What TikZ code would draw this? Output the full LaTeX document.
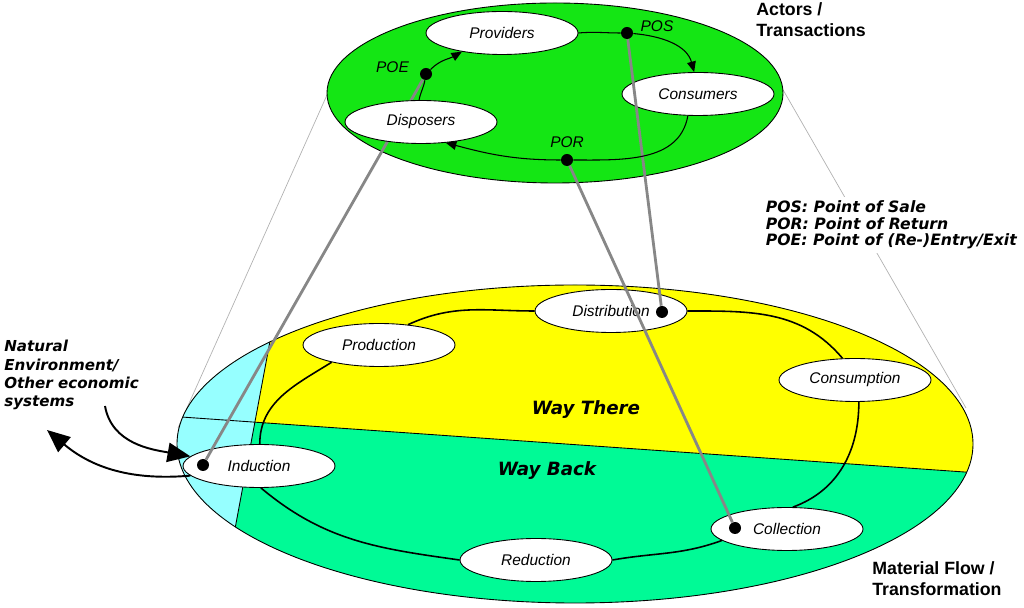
\documentclass[tikz,border=0pt]{standalone}
\usepackage{fontspec}
\setmainfont{Liberation Sans}
\newfontfamily\verdana{DejaVu Sans}
\usetikzlibrary{arrows.meta,shapes.geometric}

\definecolor{topgreen}{RGB}{20,230,20}
\definecolor{waythere}{RGB}{255,255,0}
\definecolor{wayback}{RGB}{0,250,150}
\definecolor{nature}{RGB}{150,255,255}
\definecolor{linkgray}{RGB}{135,135,135}

\begin{document}
\begin{tikzpicture}
    [
        x = 0.02cm, y = 0.02cm,
        stage/.style      = {shape=ellipse, draw, fill=white, line width=0.5pt,
                             minimum width=3.04cm, minimum height=0.86cm, inner sep=0pt,
                             font=\fontsize{8.8}{10}\selectfont\itshape},
        point/.style      = {shape=circle, fill=black, minimum size=0.24cm, inner sep=0pt},
        pointlabel/.style = {font=\fontsize{8.8}{10}\selectfont\itshape, inner sep=0pt},
        link/.style       = {draw=linkgray, line width=1.6pt},
        flow/.style       = {draw, line width=0.9pt},
        deal/.style       = {draw, line width=0.6pt, -{Triangle[length=6pt,width=5pt]}},
        cone/.style       = {draw=gray!60, line width=0.4pt},
        bigarrow/.style   = {draw, line width=1.1pt, -{Triangle[length=13pt,width=11pt]}},
        heading/.style    = {font=\fontsize{10.1}{11.9}\selectfont\bfseries, align=left, inner sep=0pt},
        note/.style       = {font=\verdana\fontsize{8.6}{10.4}\selectfont\bfseries\itshape, align=left, inner sep=0pt},
        wayname/.style    = {font=\verdana\fontsize{10.4}{12}\selectfont\bfseries\itshape},
    ]
    \useasboundingbox (0,0) rectangle (1024,608);

    % outline of the cone
    \draw [cone] (327,513) -- (178,180);
    \draw [cone] (782,520) -- (966,200);

    % material flow level
    \begin{scope}
        \clip (575,164) ellipse [x radius=398, y radius=159];
        \fill [wayback] (150,-20) rectangle (1000,400);
        \fill [waythere] (150,193.2) -- (1000,133.5) -- (1000,400) -- (150,400) -- cycle;
        \fill [nature] (287,358) -- (218,-12) -- (100,-12) -- (100,358) -- cycle;
        \draw [line width=0.5pt] (150,193.2) -- (1000,133.5);
        \draw [line width=0.5pt] (287,358) -- (218,-12);
    \end{scope}
    \draw [line width=0.5pt] (575,164) ellipse [x radius=398, y radius=159];

    % actors level
    \draw [fill=topgreen, line width=0.5pt] (555,515) ellipse [x radius=228, y radius=90];

    \node [stage] (Production)   at (379,263) {Production};
    \node [stage] (Distribution) at (611,297) {Distribution};
    \node [stage] (Consumption)  at (855,228) {Consumption};
    \node [stage] (Collection)   at (787,79)  {Collection};
    \node [stage] (Reduction)    at (536,48)  {Reduction};
    \node [stage] (Induction)    at (259,142) {Induction};
    \node [point] (distDot) at (662,296) {};
    \node [point] (indDot)  at (203,143) {};
    \node [point] (collDot) at (735,80)  {};

    \node [stage] (Providers) at (502,575) {Providers};
    \node [stage] (Consumers) at (698,514) {Consumers};
    \node [point, label={[pointlabel, label distance=4pt]5:POS}]   (POS) at (627,575) {};
    \node [point, label={[pointlabel, label distance=3pt]90:POR}]  (POR) at (567,448) {};
    \node [point, label={[pointlabel, label distance=6pt]175:POE}] (POE) at (426,534) {};

    \draw [link] (POE) -- (indDot);
    \node [stage] (Disposers) at (421,486) {Disposers};
    \draw [link] (POS) -- (distDot);
    \draw [link] (POR) -- (collDot);

    % transactions
    \draw [deal] (Providers.east) to[out=5, in=180] (POS) to[out=-5, in=105] (Consumers.100);
    \draw [deal] (Consumers.-115) to[out=-100, in=0] (POR) to[out=180, in=-15] (Disposers.-40);
    \draw [deal] (Disposers.95) to[out=80, in=-100] (POE) to[out=45, in=210] (Providers.-155);

    % material cycle
    \draw [flow] (Production.35) to[out=25, in=180] (Distribution.west)
                 (Distribution.east) to[out=0, in=130] (Consumption.120)
                 (Consumption.-80) to[out=-90, in=20] (Collection.75)
                 (Collection.190) to[out=200, in=10] (Reduction.east)
                 (Reduction.west) to[out=172, in=-40] (Induction.-85)
                 (Induction.88) to[out=90, in=212] (Production.200);

    \coordinate (natIn)  at (105,202);
    \coordinate (natOut) at (47,178);
    \draw [bigarrow] (natIn) to[out=-80, in=170] (Induction.172);
    \draw [bigarrow] (Induction.188) to[out=185, in=-40] (natOut);

    \node [wayname] (there) at (586,198) {Way There};
    \node [wayname] (back)  at (547,137) {Way Back};

    \node [heading, anchor=north west] (actors)   at (756,606) {Actors /\\Transactions};
    \node [heading, anchor=north west] (material) at (872,47)  {Material Flow /\\Transformation};
    \node [note, anchor=north west] (natural) at (4,268) {Natural\\Environment/\\Other economic\\systems};
    \node [note, fill=white, inner sep=2pt, anchor=north west, font=\verdana\fontsize{8.9}{9.4}\selectfont\bfseries\itshape]
        (legend) at (762,411) {POS: Point of Sale\\POR: Point of Return\\POE: Point of (Re-)Entry/Exit};
\end{tikzpicture}
\end{document}
